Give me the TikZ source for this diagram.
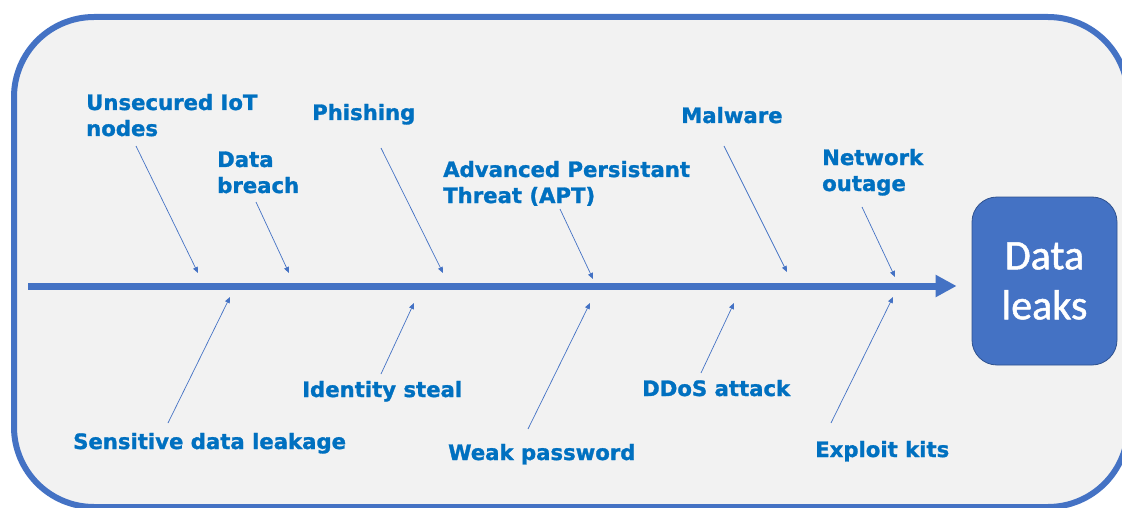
\documentclass[tikz,border=0pt]{standalone}
\usepackage{fontspec}
\setmainfont{DejaVu Sans}
\newfontfamily\calib[FakeBold=1.2]{Carlito}
\newfontfamily\lblfont[FakeBold=1.3]{DejaVu Sans Bold}
\usetikzlibrary{arrows.meta}
\definecolor{lblue}{HTML}{0070C0}
\definecolor{oblue}{HTML}{4472C4}
\definecolor{bgg}{HTML}{F2F2F2}
\definecolor{dblue}{HTML}{2F528F}
\begin{document}
\begin{tikzpicture}[x=1pt,y=-1pt,
  lbl/.style={anchor=base west, inner sep=0pt, text=lblue, font=\lblfont\fontsize{21.2}{26}\selectfont, align=left},
  bone/.style={draw=oblue, line width=0.7pt, -{Triangle[length=6pt,width=5pt]}}]
\useasboundingbox (0,0) rectangle (1122,508);
\draw[fill=bgg, draw=oblue, line width=6pt, rounded corners=80pt] (14,17) rectangle (1128,507);

% effect box
\node[draw=dblue, line width=0.8pt, fill=oblue, rounded corners=25pt, minimum width=145pt, minimum height=168pt, text=white, align=center, font=\calib\fontsize{42}{50}\selectfont] (leaks) at (1044.5,281) {Data\\leaks};

% spine
\coordinate (spine0) at (28,286);
\draw[draw=oblue, line width=7pt, shorten >=15pt, -{Triangle[length=21pt,width=21pt]}] (spine0) -- (spine0 -| leaks.west);

% labels (anchor = baseline of the last line)
\node[lbl] (iot) at (86,136) {Unsecured IoT\\nodes};
\node[lbl] (breach) at (217,193) {Data\\breach};
\node[lbl] (phish) at (312,120) {Phishing};
\node[lbl] (apt) at (443,203) {Advanced Persistant\\Threat (APT)};
\node[lbl] (malw) at (681,123) {Malware};
\node[lbl] (netw) at (822,191) {Network\\outage};
\node[lbl] (sens) at (73,449) {Sensitive data leakage};
\node[lbl] (ident) at (302,397) {Identity steal};
\node[lbl] (weak) at (448,460) {Weak password};
\node[lbl] (ddos) at (642,396) {DDoS attack};
\node[lbl] (expl) at (815,457) {Exploit kits};

% arrow end points
\coordinate (iotS) at (136,146);   \coordinate (iotE) at (198,273);
\coordinate (brS) at (256,202);    \coordinate (brE) at (289,273);
\coordinate (phS) at (381,148);    \coordinate (phE) at (443,273);
\coordinate (apS) at (560,209);    \coordinate (apE) at (593,279);
\coordinate (maS) at (724,146);    \coordinate (maE) at (787,272);
\coordinate (neS) at (862,207);    \coordinate (neE) at (895,277);
\coordinate (seS) at (168,423);    \coordinate (seE) at (230,297);
\coordinate (idS) at (381,374);    \coordinate (idE) at (414,303);
\coordinate (weS) at (528,429);    \coordinate (weE) at (590,303);
\coordinate (ddS) at (701,373);    \coordinate (ddE) at (734,303);
\coordinate (exS) at (831,423);    \coordinate (exE) at (893,297);

\draw[bone] (iotS) -- (iotE);
\draw[bone] (brS) -- (brE);
\draw[bone] (phS) -- (phE);
\draw[bone] (apS) -- (apE);
\draw[bone] (maS) -- (maE);
\draw[bone] (neS) -- (neE);
\draw[bone] (seS) -- (seE);
\draw[bone] (idS) -- (idE);
\draw[bone] (weS) -- (weE);
\draw[bone] (ddS) -- (ddE);
\draw[bone] (exS) -- (exE);
\end{tikzpicture}
\end{document}
